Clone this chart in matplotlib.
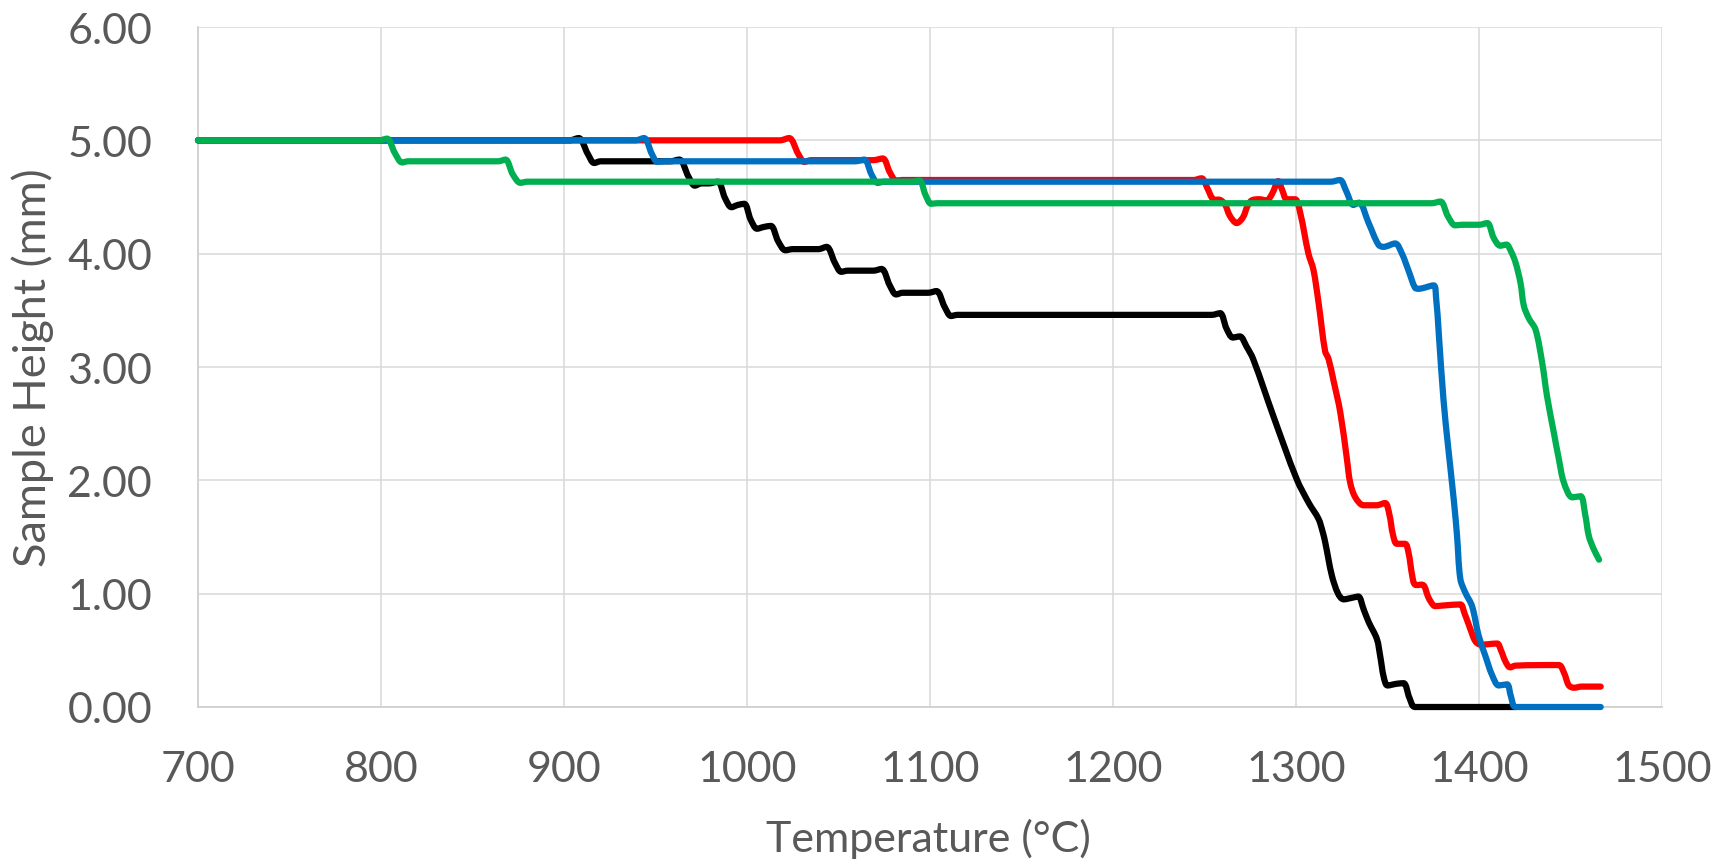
import matplotlib
matplotlib.use("Agg")
import matplotlib.pyplot as plt
import numpy as np
from matplotlib.path import Path
from matplotlib.patches import PathPatch
from matplotlib.ticker import FormatStrFormatter

# Sample height vs temperature, four specimens
black_T = [700, 903, 908, 913, 916.5, 920, 958, 963, 968, 971.5, 975, 979, 984, 988, 991.5,
           995, 998.5, 1002, 1005.5, 1009, 1013, 1017, 1021, 1025, 1039, 1043.5, 1048, 1051.5,
           1055, 1069, 1073.5, 1078, 1081.5, 1085, 1099, 1103.5, 1108, 1111.5, 1115, 1254,
           1258.5, 1262, 1265.5, 1269.3, 1273, 1276.6, 1288, 1300.4, 1307, 1312.3, 1314.5,
           1316, 1319.6, 1323, 1326, 1331, 1334, 1337, 1339.7, 1344.2, 1346, 1348, 1350, 1355,
           1358.8, 1362, 1365, 1420]
black_H = [5.00, 5.00, 5.02, 4.88, 4.80, 4.815, 4.815, 4.83, 4.68, 4.60, 4.62, 4.62, 4.635,
           4.49, 4.41, 4.43, 4.44, 4.30, 4.22, 4.235, 4.245, 4.11, 4.03, 4.04, 4.04, 4.06,
           3.92, 3.84, 3.85, 3.85, 3.865, 3.72, 3.64, 3.655, 3.655, 3.67, 3.53, 3.45, 3.46,
           3.46, 3.475, 3.34, 3.26, 3.27, 3.18, 3.07, 2.55, 2.01, 1.80, 1.66, 1.55, 1.45,
           1.16, 1.00, 0.95, 0.965, 0.975, 0.86, 0.75, 0.60, 0.45, 0.26, 0.19, 0.205, 0.21,
           0.08, 0.00, 0.00]

red_T = [700, 1018, 1023, 1028, 1031.3, 1035, 1069, 1074.2, 1078, 1081.5, 1085, 1244, 1248.4,
         1251.5, 1254.7, 1258.4, 1261, 1264, 1267.6, 1271, 1273.5, 1275.8, 1280, 1284, 1287,
         1290.3, 1292.5, 1294.9, 1299.5, 1302.3, 1306.8, 1309.5, 1312.3, 1315.9, 1317.8,
         1320.5, 1324.2, 1327.8, 1329.6, 1332.4, 1336.9, 1344, 1348.7, 1351, 1353, 1355.1,
         1359.6, 1361.5, 1363.5, 1365, 1369.6, 1372, 1374, 1376, 1380, 1389.8, 1392, 1395,
         1398, 1401, 1409.9, 1412, 1414.5, 1417, 1420, 1443.6, 1446.5, 1449.1, 1452, 1456,
         1466.5]
red_H = [5.00, 5.00, 5.02, 4.88, 4.81, 4.825, 4.825, 4.84, 4.72, 4.645, 4.65, 4.65, 4.665,
         4.58, 4.48, 4.475, 4.44, 4.33, 4.27, 4.32, 4.42, 4.47, 4.48, 4.47, 4.53, 4.64, 4.56,
         4.48, 4.48, 4.36, 4.00, 3.86, 3.57, 3.14, 3.07, 2.88, 2.60, 2.19, 1.98, 1.85, 1.78,
         1.78, 1.80, 1.70, 1.52, 1.44, 1.44, 1.36, 1.16, 1.08, 1.075, 0.98, 0.92, 0.89,
         0.895, 0.905, 0.83, 0.70, 0.58, 0.55, 0.56, 0.50, 0.40, 0.35, 0.365, 0.37, 0.30,
         0.19, 0.17, 0.18, 0.18]

blue_T = [700, 939, 943.7, 948, 951, 955, 1059, 1064.1, 1068, 1071.4, 1075, 1319, 1324,
          1327.5, 1331.3, 1334.4, 1339.7, 1345, 1347.8, 1354.2, 1357.9, 1361.5, 1365, 1366.8,
          1375.2, 1376.5, 1378, 1380.6, 1383.3, 1386.2, 1388, 1389.8, 1392.5, 1396.2,
          1399.8, 1403.5, 1407.2, 1410.8, 1415.3, 1417.5, 1420, 1466.5]
blue_H = [5.00, 5.00, 5.02, 4.88, 4.81, 4.815, 4.815, 4.83, 4.70, 4.625, 4.635, 4.635, 4.65,
          4.55, 4.43, 4.45, 4.27, 4.08, 4.06, 4.09, 4.00, 3.85, 3.70, 3.69, 3.72, 3.62, 3.30,
          2.71, 2.27, 1.83, 1.51, 1.13, 1.01, 0.89, 0.63, 0.45, 0.28, 0.19, 0.20, 0.09,
          0.00, 0.00]

green_T = [700, 799, 803.3, 807.5, 811.5, 815, 864, 868, 872, 876.2, 880, 1090, 1094.2,
           1097.5, 1100.6, 1104, 1374, 1378.9, 1383, 1387, 1391, 1400, 1404.5, 1408, 1411.6,
           1415, 1417.5, 1420, 1422.7, 1424.5, 1427.2, 1430.9, 1434.5, 1437.2, 1440.9,
           1443.6, 1446.4, 1451, 1455.5, 1458, 1460, 1462.5, 1465.6]
green_H = [5.00, 5.00, 5.015, 4.89, 4.805, 4.815, 4.815, 4.83, 4.70, 4.625, 4.635, 4.635,
           4.645, 4.52, 4.44, 4.445, 4.445, 4.46, 4.33, 4.25, 4.255, 4.255, 4.27, 4.14, 4.07,
           4.08, 4.02, 3.92, 3.74, 3.54, 3.43, 3.33, 3.04, 2.74, 2.42, 2.19, 1.98, 1.85,
           1.86, 1.70, 1.51, 1.40, 1.30]

x_ticks = [700, 800, 900, 1000, 1100, 1200, 1300, 1400, 1500]
y_ticks = [0, 1, 2, 3, 4, 5, 6]

plt.rcParams['font.family'] = ['Lato', 'DejaVu Sans']


def smooth_path(xs, ys, sx, sy):
    """Smoothed cubic Bezier path through every point.

    Tangents follow the neighbouring points and are scaled by the
    on-screen length of each segment so long flat runs do not overshoot;
    at local peaks, troughs and plateaus the tangent is kept horizontal.
    """
    p = np.column_stack([xs, ys]).astype(float)
    n = len(p)
    seg = np.hypot(np.diff(p[:, 0]) * sx, np.diff(p[:, 1]) * sy)
    tang = np.zeros_like(p)
    for i in range(n):
        if 0 < i < n - 1:
            tang[i] = (p[i + 1] - p[i - 1]) / (seg[i - 1] + seg[i])
            if (p[i, 1] - p[i - 1, 1]) * (p[i + 1, 1] - p[i, 1]) <= 0:
                tang[i, 1] = 0.0
        elif i == 0:
            tang[i] = (p[1] - p[0]) / seg[0]
        else:
            tang[i] = (p[-1] - p[-2]) / seg[-1]
    verts = [p[0]]
    codes = [Path.MOVETO]
    for i in range(n - 1):
        L = seg[i]
        verts += [p[i] + tang[i] * L / 3.0, p[i + 1] - tang[i + 1] * L / 3.0, p[i + 1]]
        codes += [Path.CURVE4] * 3
    return Path(verts, codes)


W, H = 1729, 862
fig = plt.figure(figsize=(W / 100, H / 100), dpi=100)
ax = fig.add_axes([198 / W, 1 - 708 / H, 1464 / W, 680 / H])

ax.set_xlim(700, 1500)
ax.set_ylim(0, 6)
ax.set_xticks(x_ticks)
ax.set_yticks(y_ticks)
ax.yaxis.set_major_formatter(FormatStrFormatter('%.2f'))

# pixels per data unit, used only to shape the curve tangents
x_px = ax.bbox.width / (ax.get_xlim()[1] - ax.get_xlim()[0])
y_px = ax.bbox.height / (ax.get_ylim()[1] - ax.get_ylim()[0])

series = [(black_T, black_H, '#000000'),
          (red_T, red_H, '#FF0000'),
          (blue_T, blue_H, '#0070C0'),
          (green_T, green_H, '#00B050')]
for k, (xs, ys, col) in enumerate(series):
    patch = PathPatch(smooth_path(xs, ys, x_px, y_px), facecolor='none', edgecolor=col,
                      lw=4.5, joinstyle='round', capstyle='round', clip_on=False,
                      zorder=3 + k)
    ax.add_patch(patch)

grid_c = '#D9D9D9'
ax.grid(True, color=grid_c, lw=1.1, zorder=0)
ax.set_axisbelow(True)
for side in ('top', 'right'):
    ax.spines[side].set_visible(False)
for side in ('left', 'bottom'):
    ax.spines[side].set_color('#D0D0D0')
    ax.spines[side].set_linewidth(1.3)
    ax.spines[side].set_zorder(2)

ax.tick_params(axis='both', length=0, labelsize=31, labelcolor='#595959')
ax.tick_params(axis='x', pad=31)
ax.tick_params(axis='y', pad=33)

fig.text(928 / W, 1 - 852 / H, 'Temperature (°C)', ha='center', va='baseline',
         fontsize=31, color='#595959')
fig.text(33 / W, 1 - 368 / H, 'Sample Height (mm)', ha='center', va='center',
         rotation=90, fontsize=32.5, color='#595959')

fig.savefig('out.png', dpi=100, facecolor='white')
